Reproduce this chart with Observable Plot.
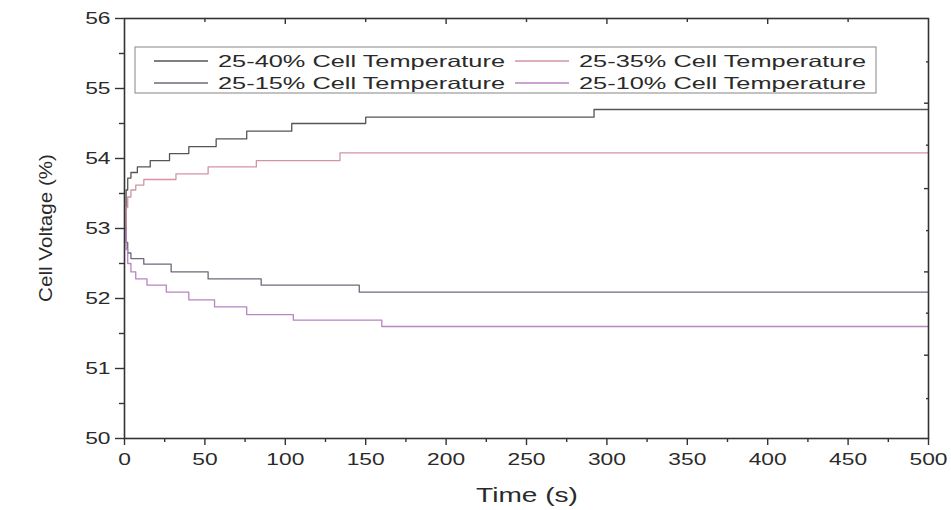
<!DOCTYPE html>
<html><head><meta charset="utf-8">
<script src="https://cdn.jsdelivr.net/npm/d3@7"></script>
<script src="https://cdn.jsdelivr.net/npm/@observablehq/plot@0.6"></script>
<style>
body{margin:0;background:#fff;}
#chart{position:relative;width:951px;height:510px;}
</style>
</head><body><div id="chart"></div>
<script>
// Series (time in s, cell voltage in %)
const names = ["25-40% Cell Temperature","25-35% Cell Temperature","25-15% Cell Temperature","25-10% Cell Temperature"];
const colors = ["#555555","#d494a2","#6f6878","#b884c4"];
const t40 = [0,1,2,4,8,16,28,40,57,76,104,150,292,500];
const v40 = [53,53.55,53.72,53.8,53.88,53.97,54.07,54.17,54.28,54.39,54.5,54.59,54.7,54.7];
const t35 = [0,1,2,4,7,12,32,52,82,134,500];
const v35 = [53,53.3,53.45,53.55,53.62,53.7,53.78,53.88,53.97,54.08,54.08];
const t15 = [0,1,2,4,12,29,52,85,146,500];
const v15 = [53,52.8,52.65,52.57,52.49,52.38,52.28,52.19,52.09,52.09];
const t10 = [0,1,2,4,7,14,26,40,56,76,105,160,500];
const v10 = [53,52.7,52.5,52.38,52.28,52.19,52.09,51.98,51.88,51.77,51.69,51.6,51.6];
// ticks
const xMajor = [0,50,100,150,200,250,300,350,400,450,500];
const xMinor = [25,75,125,175,225,275,325,375,425,475];
const yMajor = [50,51,52,53,54,55,56];
const yMinor = [50.5,51.5,52.5,53.5,54.5,55.5];
const topMajor = [100,200,300,400];
const topMinor = [50,150,250,350,450];
const rightMajor = [54.79,53.57,52.38,51.19];
const rightMinor = [55.38,54.19,52.97,51.79,50.57];

const seriesT = [t40,t35,t15,t10];
const seriesV = [v40,v35,v15,v10];
const data = [];
names.forEach((n,k)=>seriesT[k].forEach((t,i)=>data.push({t, v: seriesV[k][i], name: n})));

const font = "Liberation Sans, Arial, Helvetica, sans-serif";
const ax = {label: null, stroke: "#333", strokeWidth: 1.4};
const plot = Plot.plot({
  width: 951, height: 510,
  marginLeft: 124, marginRight: 23, marginTop: 18, marginBottom: 72,
  style: {fontFamily: font, fontSize: "16.3px", color: "#2a2a2a", background: "#fff"},
  x: {domain: [0,500]},
  y: {domain: [50,56]},
  color: {domain: names, range: colors},
  marks: [
    Plot.lineY(data, {x: "t", y: "v", z: "name", stroke: "name", curve: "step-after", strokeWidth: 1.3}),
    Plot.frame({stroke: "#333", strokeWidth: 1.6}),
    Plot.axisX({...ax, ticks: xMajor, tickSize: 7, tickPadding: 8, tickFormat: d => String(d)}),
    Plot.axisX({...ax, ticks: xMinor, tickSize: 4, tickFormat: () => ""}),
    Plot.axisY({...ax, ticks: yMajor, tickSize: 9, tickPadding: 5, tickFormat: d => String(d)}),
    Plot.axisY({...ax, ticks: yMinor, tickSize: 5, tickFormat: () => ""}),
    Plot.axisX({...ax, anchor: "top", ticks: topMajor, tickSize: -5, tickFormat: () => ""}),
    Plot.axisX({...ax, anchor: "top", ticks: topMinor, tickSize: -3, tickFormat: () => ""}),
    Plot.axisY({...ax, anchor: "right", ticks: rightMajor, tickSize: -5, tickFormat: () => ""}),
    Plot.axisY({...ax, anchor: "right", ticks: rightMinor, tickSize: -3, tickFormat: () => ""})
  ]
});
document.getElementById("chart").appendChild(plot);

const svg = d3.select(plot);
// widen tick labels horizontally as in the reference
svg.selectAll("g[aria-label='x-axis tick label'] text, g[aria-label='y-axis tick label'] text").each(function() {
  const el = this;
  let tr = el.getAttribute("transform");
  if (!tr) {
    const x = el.getAttribute("x") || 0, y = el.getAttribute("y") || 0;
    el.removeAttribute("x"); el.removeAttribute("y");
    tr = `translate(${x},${y})`;
  }
  el.setAttribute("transform", tr + " scale(1.4,1)");
});

// titles and legend
svg.append("text").attr("transform", "translate(527,502) scale(1.44,1)").attr("text-anchor", "middle")
  .attr("font-family", font).attr("font-size", 19.5).attr("fill", "#2a2a2a").text("Time (s)");
svg.append("text").attr("transform", "translate(52,228) rotate(-90)").attr("text-anchor", "middle")
  .attr("font-family", font).attr("font-size", 19).attr("textLength", 148).attr("lengthAdjust", "spacingAndGlyphs")
  .attr("fill", "#2a2a2a").text("Cell Voltage (%)");
const lg = svg.append("g").attr("transform", "translate(135,47)");
lg.append("rect").attr("width", 741).attr("height", 46).attr("fill", "#fff").attr("stroke", "#9a9a9a").attr("stroke-width", 1.2);
const pos = [[19,14],[380,14],[19,36],[380,36]];
names.forEach((n,i)=>{
  const [lx,ly] = pos[i];
  lg.append("line").attr("x1", lx).attr("x2", lx+54).attr("y1", ly).attr("y2", ly).attr("stroke", colors[i]).attr("stroke-width", 1.3);
  lg.append("text").attr("x", lx+64).attr("y", ly).attr("dy", "0.36em").attr("text-anchor", "start")
    .attr("font-family", font).attr("font-size", 16.5).attr("textLength", 287).attr("lengthAdjust", "spacingAndGlyphs")
    .attr("fill", "#2a2a2a").text(n);
});
</script>
</body></html>
